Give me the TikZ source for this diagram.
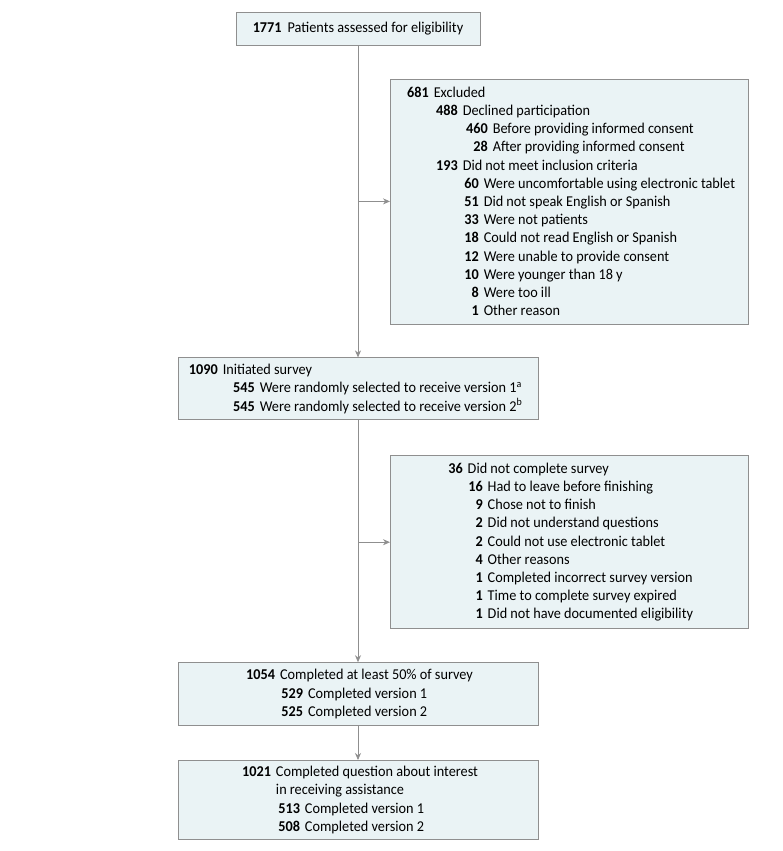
\documentclass[tikz,border=0pt]{standalone}
\usepackage{fontspec}
\setmainfont{Carlito}[FakeStretch=0.95]
\usetikzlibrary{positioning, arrows.meta}
\definecolor{boxfill}{HTML}{EAF3F5}
\definecolor{boxline}{HTML}{8F8F8F}
\definecolor{flowline}{HTML}{8F8F8F}
% indent, column width, count, text
\newcommand{\cnt}[4]{\hspace*{#1pt}\makebox[#2pt][r]{\textbf{#3}\hspace{5pt}}#4}

\begin{document}
\begin{tikzpicture}[
    x=1pt, y=1pt,
    every node/.style={font=\fontsize{15pt}{18.2pt}\selectfont},
    box/.style={
        draw=boxline, fill=boxfill, line width=0.8pt,
        align=left, inner sep=0pt, minimum width=360pt
    },
    sidebox/.style={box, minimum width=358pt},
    arrow/.style={->, >={Stealth[length=7pt, width=6pt]},
        draw=flowline, line width=0.8pt}
]
\useasboundingbox (0,0) rectangle (783,-851);

% ── ASSESSMENT ─────────────────────────────────────────────────
\node[box, minimum width=244pt, minimum height=33pt] (assess) at (358,-28.5)
    {\textbf{1771}\hspace{6pt}Patients assessed for eligibility};

% ── EXCLUDED ───────────────────────────────────────────────────
\coordinate[below=156pt of assess] (excl_br);
\node[sidebox, minimum height=245pt, right=32pt of excl_br] (excl)
    {\cnt{0}{30}{681}{Excluded}\\
     \cnt{30}{29}{488}{Declined participation}\\
     \cnt{59}{30}{460}{Before providing informed consent}\\
     \cnt{59}{30}{28}{After providing informed consent}\\
     \cnt{30}{29}{193}{Did not meet inclusion criteria}\\
     \cnt{59}{21}{60}{Were uncomfortable using electronic tablet}\\
     \cnt{59}{21}{51}{Did not speak English or Spanish}\\
     \cnt{59}{21}{33}{Were not patients}\\
     \cnt{59}{21}{18}{Could not read English or Spanish}\\
     \cnt{59}{21}{12}{Were unable to provide consent}\\
     \cnt{59}{21}{10}{Were younger than 18 y}\\
     \cnt{59}{21}{8}{Were too ill}\\
     \cnt{59}{21}{1}{Other reason}};

% ── INITIATED ──────────────────────────────────────────────────
\node[box, minimum height=62pt, below=312pt of assess] (init)
    {\cnt{0}{29}{1090}{Initiated survey}\\
     \cnt{37}{29}{545}{Were randomly selected to receive version 1\textsuperscript{a}}\\
     \cnt{37}{29}{545}{Were randomly selected to receive version 2\textsuperscript{b}}};

% ── DID NOT COMPLETE ───────────────────────────────────────────
\coordinate[below=122pt of init] (dnc_br);
\node[sidebox, minimum height=173pt, right=32pt of dnc_br] (dnc)
    {\cnt{0}{22}{36}{Did not complete survey}\\
     \cnt{21}{21}{16}{Had to leave before finishing}\\
     \cnt{21}{21}{9}{Chose not to finish}\\
     \cnt{21}{21}{2}{Did not understand questions}\\
     \cnt{21}{21}{2}{Could not use electronic tablet}\\
     \cnt{21}{21}{4}{Other reasons}\\
     \cnt{21}{21}{1}{Completed incorrect survey version}\\
     \cnt{21}{21}{1}{Time to complete survey expired}\\
     \cnt{21}{21}{1}{Did not have documented eligibility}};

% ── COMPLETED ──────────────────────────────────────────────────
\node[box, minimum height=63pt, below=242pt of init] (compl)
    {\cnt{0}{37}{1054}{Completed at least 50\% of survey}\\
     \cnt{36}{29}{529}{Completed version 1}\\
     \cnt{36}{29}{525}{Completed version 2}};

\node[box, minimum height=79pt, below=34pt of compl] (final)
    {\cnt{0}{38}{1021}{Completed question about interest}\\
     \hspace*{38pt}in receiving assistance\\
     \cnt{38}{29}{513}{Completed version 1}\\
     \cnt{38}{29}{508}{Completed version 2}};

% ── CONNECTORS ─────────────────────────────────────────────────
\draw[arrow] (assess) -- (init);
\draw[arrow] (excl_br) -- (excl);
\draw[arrow] (init) -- (compl);
\draw[arrow] (dnc_br) -- (dnc);
\draw[arrow] (compl) -- (final);

\end{tikzpicture}
\end{document}
